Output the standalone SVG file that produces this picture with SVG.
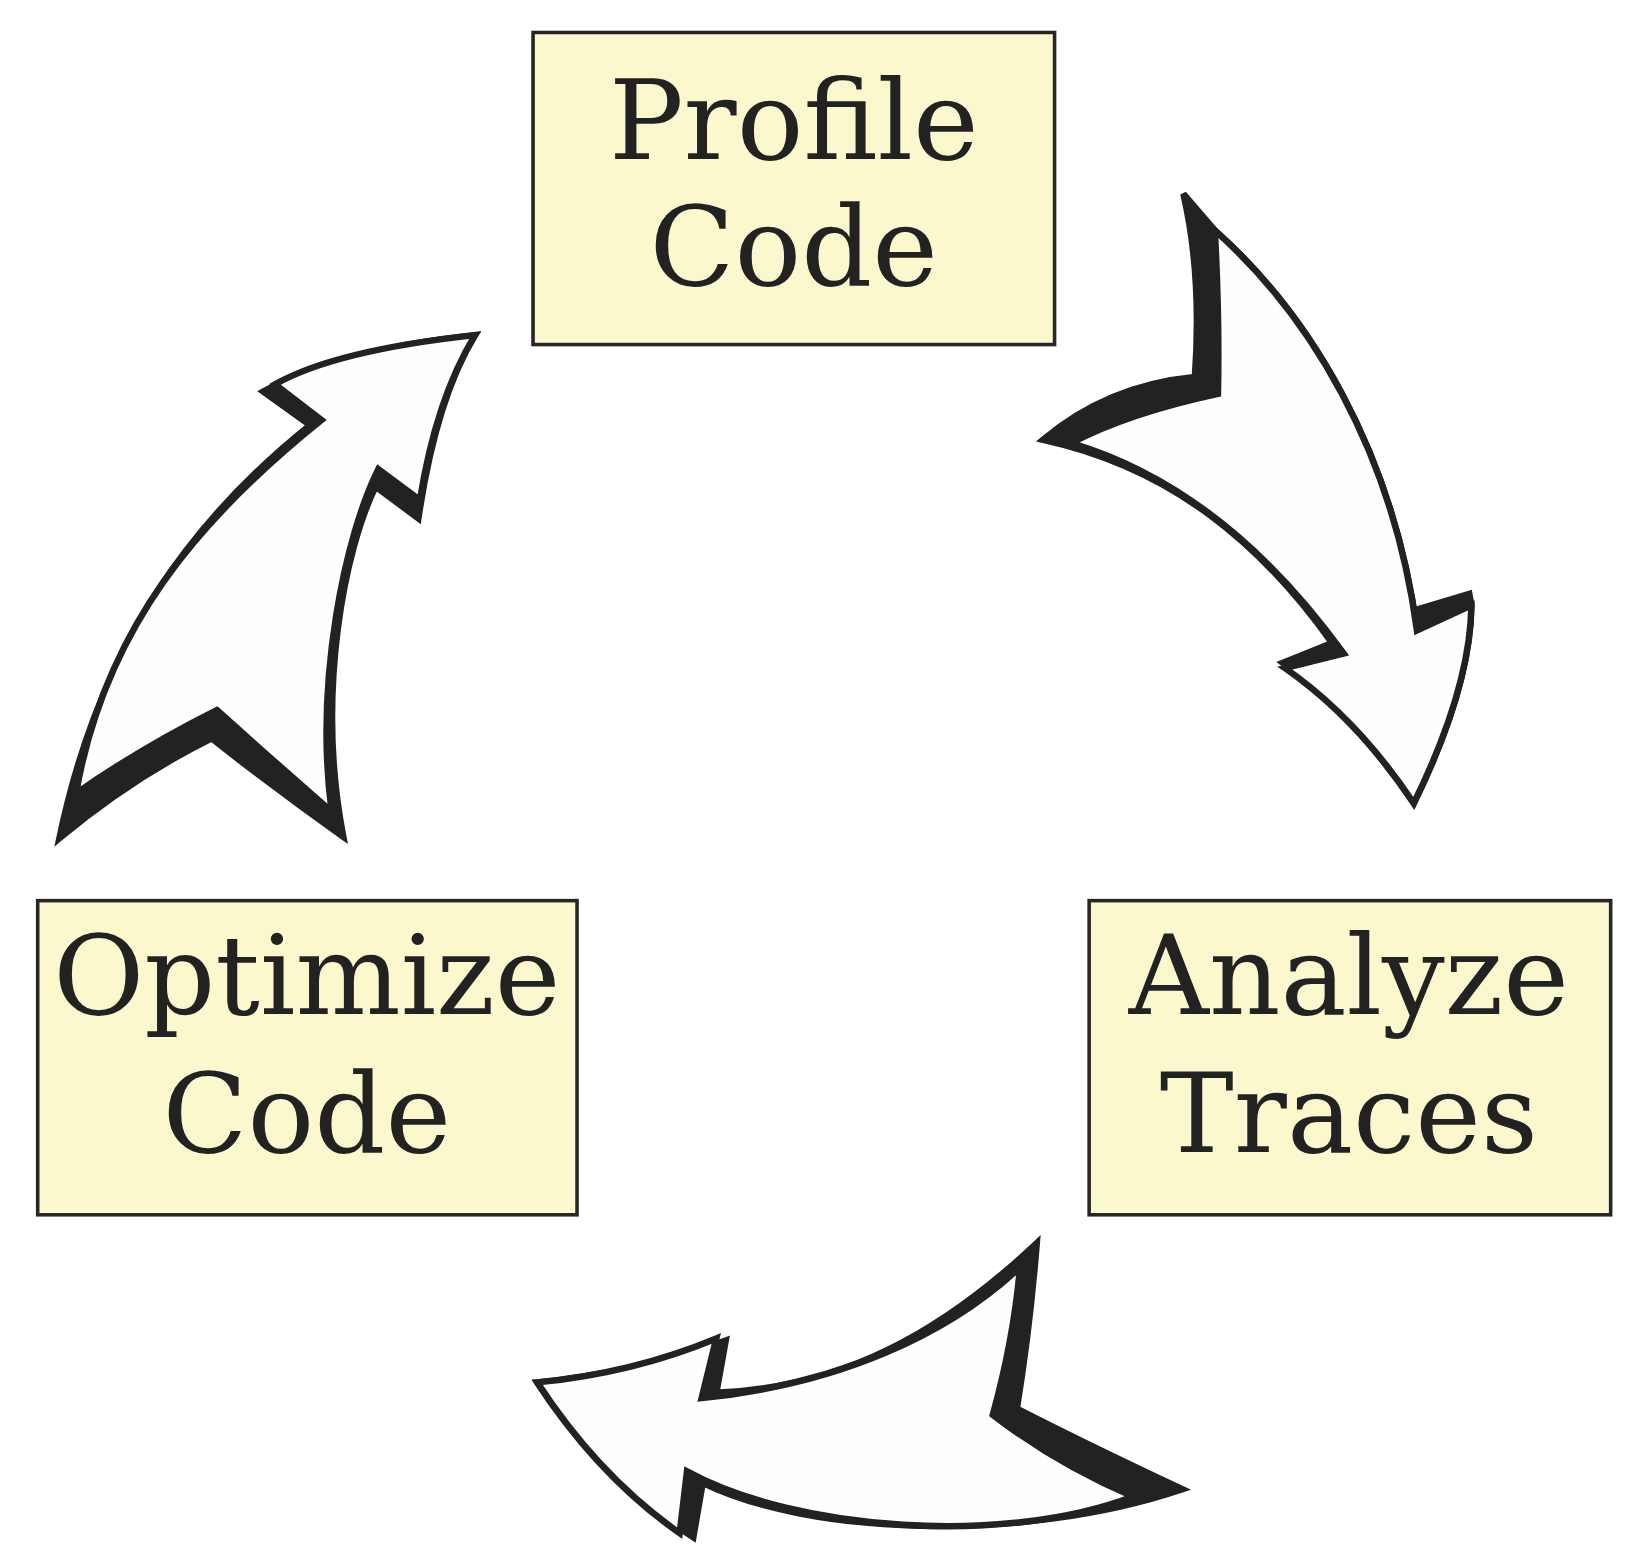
<svg xmlns="http://www.w3.org/2000/svg" width="1640" height="1566" viewBox="0 0 1640 1566">
<style>
.box{fill:#FBF8CD;stroke:#262626;stroke-width:3.4}
.label{font-family:"DejaVu Serif","Liberation Serif",serif;font-size:106px;fill:#222222;text-anchor:middle}
.shadow{fill:#222222;stroke:#222222;stroke-width:6.2;stroke-linejoin:miter}
.body{fill:#FEFEFC;stroke:#222222;stroke-width:6.2;stroke-linejoin:miter}
</style>
<rect x="0" y="0" width="1640" height="1566" fill="#FFFFFF"/>
<g transform="scale(1.04725)">
  <g id="connectors">
    <g id="arrow-profile-analyze">
      <path class="shadow" d="M1130,185 L1160,220 C1250,300 1330,430 1353,602 L1350,583 L1403,567 L1405,578 Q1404,657 1350,767 Q1295.5,685.5 1225,633 L1272,614 C1205,520 1120,447 996,420 Q1057.5,368 1141,360 Q1147.9,262.3 1130,185 Z"/>
      <path class="body" d="M1160,220 C1250,300 1330,430 1353,602 L1405,578 Q1404,657 1350,767 Q1295.5,685.5 1227,638 L1283,624 C1215,530 1130,455 1023,423 Q1077,394.5 1163,376 Q1164.5,302 1160,220 Z"/>
    </g>
    <g id="arrow-analyze-optimize">
      <path class="shadow" d="M990,1187 C900,1272 805,1325 684,1330 L693,1280 Q604.7,1311 513,1320 Q571,1409.2 662,1468 L671,1416 C770,1465 975,1474 1129,1422 Q1038,1379.3 971,1345 Q983.5,1267.8 990,1187 Z"/>
      <path class="body" d="M974,1210 C905,1275 800,1322 670,1335 L684,1278 Q604.7,1311 513,1320 Q571,1409.2 649,1464 L656,1405 C760,1462 960,1476 1082,1429 Q1009.4,1398.4 948,1351 Q968,1278.7 974,1210 Z"/>
    </g>
    <g id="arrow-optimize-profile">
      <path class="shadow" d="M56.7,800.5 C96,612 185,495 296,406 L251.4,374 Q319.9,334.5 453.6,320 Q416.3,381.25 399.5,495 L358.7,464.7 C330,522 301,660 327.8,799 Q263.5,753.6 202,705 Q125.25,743.25 56.7,800.5 Z"/>
      <path class="body" d="M72.6,757.6 C100,600 190,495 307,401 L262.6,367 Q319.9,334.5 453.6,320 Q416.3,381.25 401,477.5 L361.3,448 C330,510 300,650 316.7,775 Q266.5,731.3 207,678 Q134,714.6 72.6,757.6 Z"/>
    </g>
  </g>
  <g id="node-profile-code">
    <rect class="box" x="509" y="31" width="498" height="298"/>
    <text class="label" x="758" y="152">Profile</text>
    <text class="label" x="758" y="272">Code</text>
  </g>
  <g id="node-analyze-traces">
    <rect class="box" x="1040" y="860" width="498" height="300"/>
    <text class="label" x="1288" y="968">Analyze</text>
    <text class="label" x="1288" y="1100">Traces</text>
  </g>
  <g id="node-optimize-code">
    <rect class="box" x="36" y="860" width="515" height="300"/>
    <text class="label" x="293" y="968">Optimize</text>
    <text class="label" x="293" y="1100">Code</text>
  </g>
</g>
</svg>
